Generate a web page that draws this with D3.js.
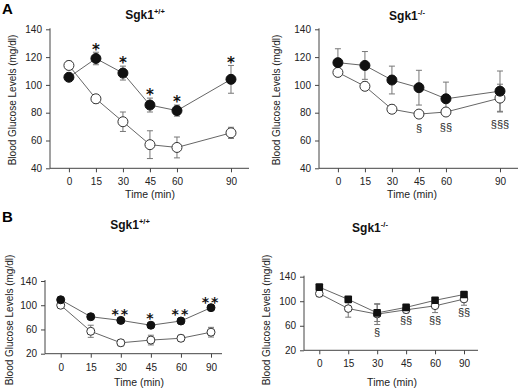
<!DOCTYPE html>
<html><head><meta charset="utf-8">
<script src="https://cdn.jsdelivr.net/npm/d3@7"></script>
<style>body{margin:0;background:#fff}svg{display:block;font-family:"Liberation Sans",Arial,sans-serif}</style>
</head><body><svg id="c" width="520" height="391"></svg>
<script>
const times = [0, 15, 30, 45, 60, 90];
const timeLabels = ["0", "15", "30", "45", "60", "90"];
// Panel A, Sgk1+/+
const aWtFilled = [105.5, 119, 108.5, 85.5, 81.5, 104];
const aWtFilledErr = [2, 4.5, 5, 5, 4, 10];
const aWtOpen = [114, 90, 73.5, 57, 55, 65.5];
const aWtOpenErr = [3, 3, 7, 10, 7.5, 4];
const aWtMarks = ["", "*", "*", "*", "*", "*"];
// Panel A, Sgk1-/-
const aKoFilled = [116, 114, 103.5, 98, 90, 95.5];
const aKoFilledErr = [10, 10, 10, 12.5, 12, 14.5];
const aKoOpen = [109, 99, 82.5, 79, 80.5, 90.5];
const aKoOpenErr = [2.5, 3, 3, 1.5, 2, 10];
const aKoMarks = ["", "", "", "§", "§§", "§§§"];
// Panel B, Sgk1+/+
const bWtFilled = [109, 81, 75, 67, 74, 96];
const bWtFilledErr = [2.5, 4, 4, 4, 4, 2.5];
const bWtOpen = [100, 57, 38, 42.5, 45.5, 55.5];
const bWtOpenErr = [4, 10, 5, 8, 5, 8];
const bWtMarks = ["", "", "**", "*", "**", "**"];
// Panel B, Sgk1-/-
const bKoFilled = [123, 103, 81, 90, 101.5, 111];
const bKoFilledErr = [2.5, 4, 14, 2.5, 2.5, 2.5];
const bKoOpen = [112.5, 88, 79, 86, 92.5, 103.5];
const bKoOpenErr = [5, 14, 17, 5, 11, 10];
const bKoMarks = ["", "", "§", "§§", "§§", "§§"];
const yTicksA = [40, 60, 80, 100, 120, 140];
const yTicksB = [20, 60, 100, 140];

const svg = d3.select("#c");
const lineCol = "#666";

function panel(o) {
  const g = svg.append("g");
  let x;
  if (o.linear) {
    x = d3.scaleLinear().domain([-10.5, 100]).range([o.x0, o.x1]);
  } else {
    x = d3.scalePoint().domain(times).range([o.p0, o.p1]);
  }
  const y = d3.scaleLinear().domain(o.ydom).range([o.yb, o.yt]);
  const ya = d3.axisLeft(y).tickValues(o.yticks).tickSize(4).tickSizeOuter(0).tickPadding(4);
  const gy = g.append("g").attr("transform", `translate(${o.x0},0)`).call(ya);
  gy.select(".domain").remove();
  gy.append("line").attr("x1", 0).attr("x2", 0).attr("y1", o.yt - 1).attr("y2", o.yb).attr("stroke", "#444");
  const xa = d3.axisBottom(x).tickValues(times).tickFormat((d, i) => timeLabels[i]).tickSize(4).tickPadding(6);
  const gx = g.append("g").attr("transform", `translate(0,${o.yb})`).call(xa);
  gx.select(".domain").remove();
  gx.append("line").attr("x1", o.x0).attr("x2", o.x1).attr("y1", 0).attr("y2", 0).attr("stroke", "#444");
  g.selectAll(".tick line").attr("stroke", "#444");
  g.selectAll(".tick text").attr("font-size", o.tickFont).attr("fill", "#222");
  const mk = (vals, errs) => {
    const d = times.map((t, i) => ({t, v: vals[i], e: errs[i]}));
    g.append("path").datum(d).attr("fill", "none").attr("stroke", lineCol).attr("stroke-width", 1)
      .attr("d", d3.line().x(p => x(p.t)).y(p => y(p.v)));
    const eb = g.append("g").attr("stroke", "#777").attr("stroke-width", 1);
    d.forEach(p => {
      const cx = x(p.t), top = y(p.v + p.e), bot = y(p.v - p.e);
      eb.append("line").attr("x1", cx).attr("x2", cx).attr("y1", top).attr("y2", bot);
      eb.append("line").attr("x1", cx - 3).attr("x2", cx + 3).attr("y1", top).attr("y2", top);
      eb.append("line").attr("x1", cx - 3).attr("x2", cx + 3).attr("y1", bot).attr("y2", bot);
    });
    return d;
  };
  const dF = mk(o.filled, o.filledErr);
  const dO = mk(o.open, o.openErr);
  g.selectAll(".op").data(dO).join("circle").attr("cx", p => x(p.t)).attr("cy", p => y(p.v))
    .attr("r", o.r).attr("fill", "#fff").attr("stroke", "#333").attr("stroke-width", 1);
  if (o.square) {
    g.selectAll(".fp").data(dF).join("rect").attr("x", p => x(p.t) - o.r).attr("y", p => y(p.v) - o.r)
      .attr("width", o.r * 2).attr("height", o.r * 2).attr("rx", 1).attr("fill", "#111");
  } else {
    g.selectAll(".fp").data(dF).join("circle").attr("cx", p => x(p.t)).attr("cy", p => y(p.v))
      .attr("r", o.r).attr("fill", "#111").attr("stroke", "#111");
  }
  times.forEach((t, i) => {
    const m = o.marks[i];
    if (!m) return;
    if (o.markAbove) {
      const top = y(o.filled[i] + o.filledErr[i]);
      g.append("text").attr("x", x(t)).attr("y", top - o.markOff + o.starFont * 0.62).attr("text-anchor", "middle")
        .attr("font-family", "DejaVu Sans, sans-serif")
        .attr("font-size", o.starFont).attr("font-weight", "bold").attr("letter-spacing", o.starSpace).attr("fill", "#111").text(m);
    } else {
      const bot = y(o.open[i] - o.openErr[i]);
      g.append("text").attr("x", x(t)).attr("y", bot + o.markOff + 4).attr("text-anchor", "middle")
        .attr("font-size", 11).attr("fill", "#222").text(m);
    }
  });
  const tt = g.append("text").attr("x", o.titleX).attr("y", o.titleY).attr("text-anchor", "middle")
    .attr("font-size", 12).attr("font-weight", "bold").attr("fill", "#111");
  tt.append("tspan").text("Sgk1");
  tt.append("tspan").attr("font-size", 7.5).attr("dy", -5).text(o.sup);
  g.append("text").attr("x", o.xlabX).attr("y", o.xlabY).attr("text-anchor", "middle").attr("font-size", 10.5).attr("fill", "#222").text("Time (min)");
  g.append("text").attr("transform", `translate(${o.ylabX},${o.ylabY}) rotate(-90)`).attr("text-anchor", "middle")
    .attr("font-size", 10).attr("fill", "#222").text("Blood Glucose Levels (mg/dl)");
}

panel({linear: true, x0: 50, x1: 249, ydom: [40, 140], yb: 168.3, yt: 29.3, yticks: yTicksA, tickFont: 10,
  filled: aWtFilled, filledErr: aWtFilledErr, open: aWtOpen, openErr: aWtOpenErr, r: 5,
  marks: aWtMarks, markAbove: true, markOff: 7, starFont: 15, starSpace: 0,
  titleX: 145, titleY: 19, sup: "+/+", xlabX: 150, xlabY: 198, ylabX: 16, ylabY: 100});
panel({linear: true, x0: 319, x1: 518, ydom: [40, 140], yb: 168.3, yt: 29.3, yticks: yTicksA, tickFont: 10,
  filled: aKoFilled, filledErr: aKoFilledErr, open: aKoOpen, openErr: aKoOpenErr, r: 5,
  marks: aKoMarks, markAbove: false, markOff: 12,
  titleX: 407, titleY: 20, sup: "-/-", xlabX: 412, xlabY: 198, ylabX: 280, ylabY: 100});
panel({linear: false, p0: 60.7, p1: 211, x0: 45, x1: 222, ydom: [20, 140], yb: 353.7, yt: 281, yticks: yTicksB, tickFont: 10,
  filled: bWtFilled, filledErr: bWtFilledErr, open: bWtOpen, openErr: bWtOpenErr, r: 4,
  marks: bWtMarks, markAbove: true, markOff: 8, starFont: 14, starSpace: 2,
  titleX: 130, titleY: 229, sup: "+/+", xlabX: 139, xlabY: 386, ylabX: 13, ylabY: 320});
panel({linear: false, p0: 319.3, p1: 464, x0: 304, x1: 478, ydom: [20, 140], yb: 350.3, yt: 276.7, yticks: yTicksB, tickFont: 10,
  filled: bKoFilled, filledErr: bKoFilledErr, open: bKoOpen, openErr: bKoOpenErr, r: 3.8, square: true,
  marks: bKoMarks, markAbove: false, markOff: 7,
  titleX: 370, titleY: 232, sup: "-/-", xlabX: 392, xlabY: 386, ylabX: 270, ylabY: 320});

svg.append("text").attr("x", 2).attr("y", 14).attr("font-size", 15).attr("font-weight", "bold").text("A");
svg.append("text").attr("x", 2).attr("y", 222).attr("font-size", 15).attr("font-weight", "bold").text("B");
</script></body></html>
